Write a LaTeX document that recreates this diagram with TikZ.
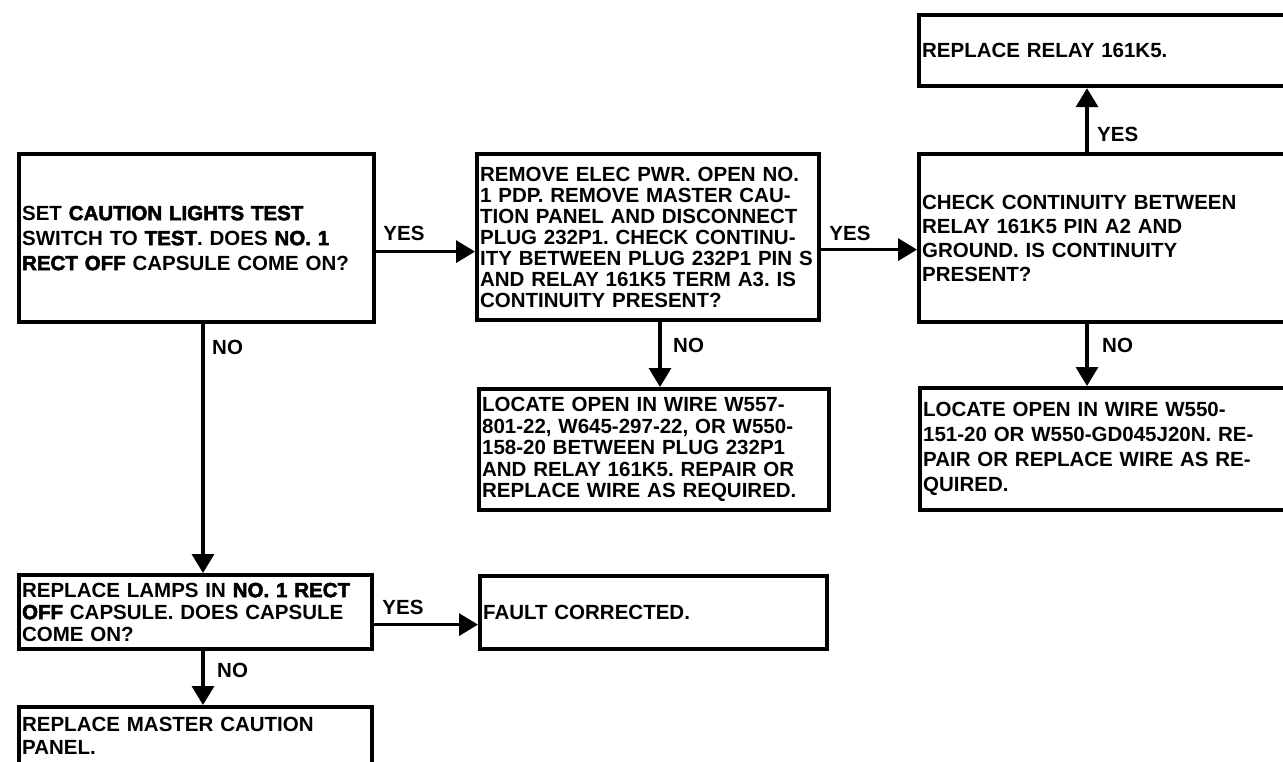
\documentclass[tikz,border=0pt]{standalone}
\usepackage{fontspec}
\setmainfont{Liberation Sans}
\newfontfamily\txtfont{Liberation Sans Bold}
\newfontfamily\hvyfont{Liberation Sans Bold}[FakeBold=2.5]
\usetikzlibrary{arrows.meta,positioning,calc}
\newcommand{\hv}[1]{{\hvyfont #1}}
\frenchspacing

\begin{document}
\begin{tikzpicture}[
  x=1pt, y=-1pt,
  box/.style  = {draw, line width=4.2pt, inner xsep=3pt, inner ysep=0pt,
                 align=left, anchor=north west},
  lead/.style = {font=\txtfont\fontsize{20.5}{#1}\selectfont},
  flow/.style = {-{Triangle[length=19pt,width=22pt]}, line width=3.4pt},
  lbl/.style  = {inner sep=0pt, anchor=base west, font=\txtfont\fontsize{20.5}{24}\selectfont},
]
\fill[white] (0,0) rectangle (1283,761);
\useasboundingbox (0,0) rectangle (1283,761);

% ---------- left column : caution light test -----------------------------------------------
\node[box, lead=25, text width=349pt, minimum height=168pt] (b1) at (17,152)
  {SET \hv{CAUTION LIGHTS TEST}\\ SWITCH TO \hv{TEST}. DOES \hv{NO. 1}\\ \hv{RECT OFF} CAPSULE COME ON?};
\node[box, lead=22, text width=347pt, minimum height=74pt] (b7) at (17,573)
  {REPLACE LAMPS IN \hv{NO. 1 RECT}\\ \hv{OFF} CAPSULE. DOES CAPSULE\\ COME ON?};
\node[box, lead=23, text width=347pt, minimum height=57pt] (b9) at (17,705)
  {REPLACE MASTER CAUTION\\ PANEL.};

% ---------- middle column : plug 232P1 -----------------------------------------------------
\node[box, lead=21, text width=336pt, minimum height=166pt] (b2) at (475,152)
  {REMOVE ELEC PWR. OPEN NO.\\ 1 PDP. REMOVE MASTER CAU-\\ TION PANEL AND DISCONNECT\\
   PLUG 232P1. CHECK CONTINU-\\ ITY BETWEEN PLUG 232P1 PIN S\\ AND RELAY 161K5 TERM A3. IS\\
   CONTINUITY PRESENT?};
\node[box, lead=21.6, text width=344pt, minimum height=121pt] (b6) at (477,387)
  {LOCATE OPEN IN WIRE W557-\\ 801-22, W645-297-22, OR W550-\\ 158-20 BETWEEN PLUG 232P1\\
   AND RELAY 161K5. REPAIR OR\\ REPLACE WIRE AS REQUIRED.};
\node[box, lead=24, text width=341pt, minimum height=73pt] (b8) at (478,574)
  {FAULT CORRECTED.};

% ---------- right column : relay 161K5 -----------------------------------------------------
\node[box, lead=24, text width=369pt, minimum height=168pt] (b3) at (917,152)
  {CHECK CONTINUITY BETWEEN\\ RELAY 161K5 PIN A2 AND\\ GROUND. IS CONTINUITY\\ PRESENT?};
\node[box, lead=24, text width=369pt, minimum height=71pt] (b4) at (917,13)
  {REPLACE RELAY 161K5.};
\node[box, lead=25, text width=369pt, minimum height=122pt] (b5) at (918,386)
  {LOCATE OPEN IN WIRE W550-\\ 151-20 OR W550-GD045J20N. RE-\\ PAIR OR REPLACE WIRE AS RE-\\ QUIRED.};

% ---------- connectors ---------------------------------------------------------------------
\draw[flow] ([shift={(0,13.5)}]b1.east) -- ([shift={(0,13.5)}]b1.east -| b2.west);
\draw[flow] ([shift={(0,12.5)}]b2.east) -- ([shift={(0,12.5)}]b2.east -| b3.west);
\draw[flow] ([shift={(170,0)}]b3.north west) -- ([shift={(170,0)}]b3.north west |- b4.south);
\draw[flow] ([shift={(170,0)}]b3.south west) -- ([shift={(170,0)}]b3.south west |- b5.north);
\draw[flow] ([shift={(185,0)}]b2.south west) -- ([shift={(185,0)}]b2.south west |- b6.north);
\draw[flow] ([shift={(186,0)}]b1.south west) -- ([shift={(186,0)}]b1.south west |- b7.north);
\draw[flow] ([shift={(0,12.5)}]b7.east) -- ([shift={(0,12.5)}]b7.east -| b8.west);
\draw[flow] ([shift={(186,0)}]b7.south west) -- ([shift={(186,0)}]b7.south west |- b9.north);

\node[lbl] (y1) at ([shift={(7,2)}]b1.east) {YES};
\node[lbl] (y2) at ([shift={(8,3.5)}]b2.east) {YES};
\node[lbl] (y3) at ([shift={(180,-11)}]b3.north west) {YES};
\node[lbl] (n4) at ([shift={(185,28)}]b3.south west) {NO};
\node[lbl] (n5) at ([shift={(198,30)}]b2.south west) {NO};
\node[lbl] (n6) at ([shift={(195,30)}]b1.south west) {NO};
\node[lbl] (y7) at ([shift={(8,2.5)}]b7.east) {YES};
\node[lbl] (n8) at ([shift={(200,26)}]b7.south west) {NO};

\end{tikzpicture}
\end{document}
